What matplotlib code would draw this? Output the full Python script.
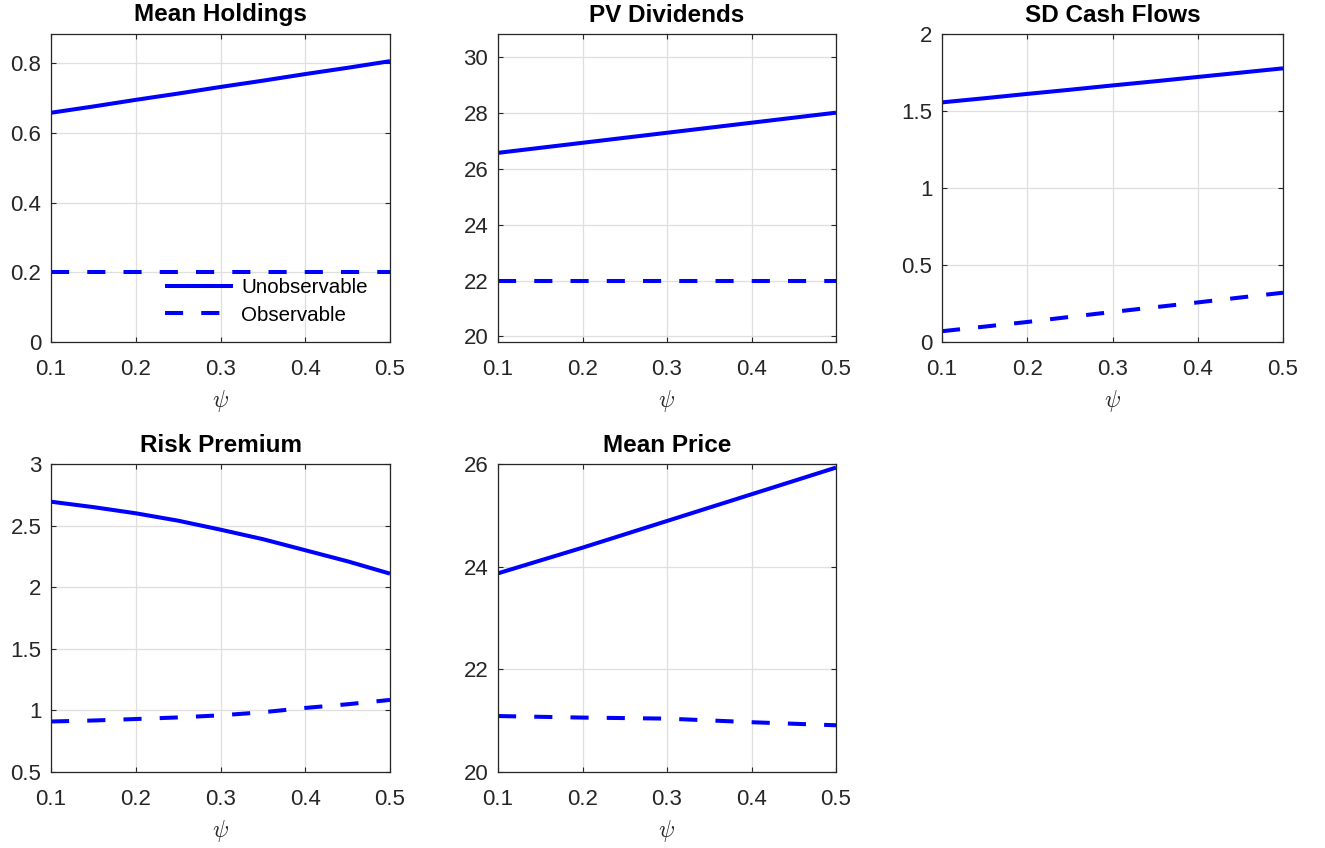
"""Five panels: unobservable vs observable model moments as psi varies."""
import numpy as np
import matplotlib
matplotlib.use("Agg")
import matplotlib.pyplot as plt
from matplotlib.ticker import FormatStrFormatter

plt.rcParams["font.family"] = ["Liberation Sans", "DejaVu Sans"]
plt.rcParams["mathtext.fontset"] = "cm"

psi = [0.1, 0.15, 0.2, 0.25, 0.3, 0.35, 0.4, 0.45, 0.5]
xticks = [0.1, 0.2, 0.3, 0.4, 0.5]

holdings_unobs = [0.658, 0.676, 0.695, 0.713, 0.732, 0.750, 0.769, 0.787, 0.806]
holdings_obs = [0.2, 0.2, 0.2, 0.2, 0.2, 0.2, 0.2, 0.2, 0.2]
pvdiv_unobs = [26.58, 26.76, 26.94, 27.12, 27.30, 27.48, 27.66, 27.84, 28.02]
pvdiv_obs = [22.0, 22.0, 22.0, 22.0, 22.0, 22.0, 22.0, 22.0, 22.0]
sdcf_unobs = [1.556, 1.583, 1.611, 1.638, 1.666, 1.693, 1.721, 1.749, 1.777]
sdcf_obs = [0.07, 0.10, 0.13, 0.163, 0.195, 0.226, 0.257, 0.289, 0.32]
rp_unobs = [2.694, 2.65, 2.60, 2.54, 2.467, 2.39, 2.30, 2.21, 2.11]
rp_obs = [0.91, 0.918, 0.93, 0.943, 0.96, 0.985, 1.02, 1.05, 1.085]
price_unobs = [23.87, 24.12, 24.37, 24.63, 24.89, 25.15, 25.41, 25.67, 25.93]
price_obs = [21.09, 21.075, 21.06, 21.05, 21.04, 21.005, 20.97, 20.94, 20.91]

panels = [
    ("Mean Holdings", holdings_unobs, holdings_obs, (0, 0.884), [0, 0.2, 0.4, 0.6, 0.8]),
    ("PV Dividends", pvdiv_unobs, pvdiv_obs, (19.8, 30.84), [20, 22, 24, 26, 28, 30]),
    ("SD Cash Flows", sdcf_unobs, sdcf_obs, (0, 2), [0, 0.5, 1, 1.5, 2]),
    ("Risk Premium", rp_unobs, rp_obs, (0.5, 3), [0.5, 1, 1.5, 2, 2.5, 3]),
    ("Mean Price", price_unobs, price_obs, (20, 26), [20, 22, 24, 26]),
]

W, H = 1325, 848
# axes boxes in pixels: left, top, right, bottom
boxes = [(51, 34, 390, 342), (498, 34, 836, 342), (942, 34, 1283, 342),
         (51, 464, 390, 772), (498, 464, 836, 772)]

fig = plt.figure(figsize=(W / 100, H / 100), dpi=100)
INK = "#262626"
for (title, un, ob, ylim, yt), (l, t, r, b) in zip(panels, boxes):
    ax = fig.add_axes([l / W, 1 - b / H, (r - l) / W, (b - t) / H])
    ax.plot(psi, un, color="#0000ff", lw=2.9, solid_capstyle="butt", label="Unobservable")
    ax.plot(psi, ob, color="#0000ff", lw=2.9, ls=(0, (4.5, 4.5)), dash_capstyle="butt", label="Observable")
    ax.set_xlim(0.1, 0.5); ax.set_ylim(*ylim)
    ax.set_xticks(xticks); ax.set_yticks(yt)
    ax.xaxis.set_major_formatter(FormatStrFormatter("%g")); ax.yaxis.set_major_formatter(FormatStrFormatter("%g"))
    ax.tick_params(direction="in", length=3.5, width=0.8, top=True, right=True, labelsize=16, colors=INK)
    ax.tick_params(axis="x", pad=12); ax.tick_params(axis="y", pad=7)
    for s in ax.spines.values():
        s.set_color(INK); s.set_linewidth(0.9)
    ax.grid(True, color="#dfdfdf", lw=0.9)
    ax.set_axisbelow(True)
    ax.set_title(title, fontsize=17.5, fontweight="bold", pad=9)
    ax.set_xlabel(r"$\psi$", fontsize=17, labelpad=6, color=INK)
    if title == "Mean Holdings":
        ax.legend(loc="upper left", bbox_to_anchor=(0.336, 0.208), frameon=False, fontsize=14.8,
                  handlelength=3.3, handletextpad=0.4, labelspacing=0.42, borderpad=0, borderaxespad=0)

fig.savefig("out.png", dpi=100, facecolor="white")
